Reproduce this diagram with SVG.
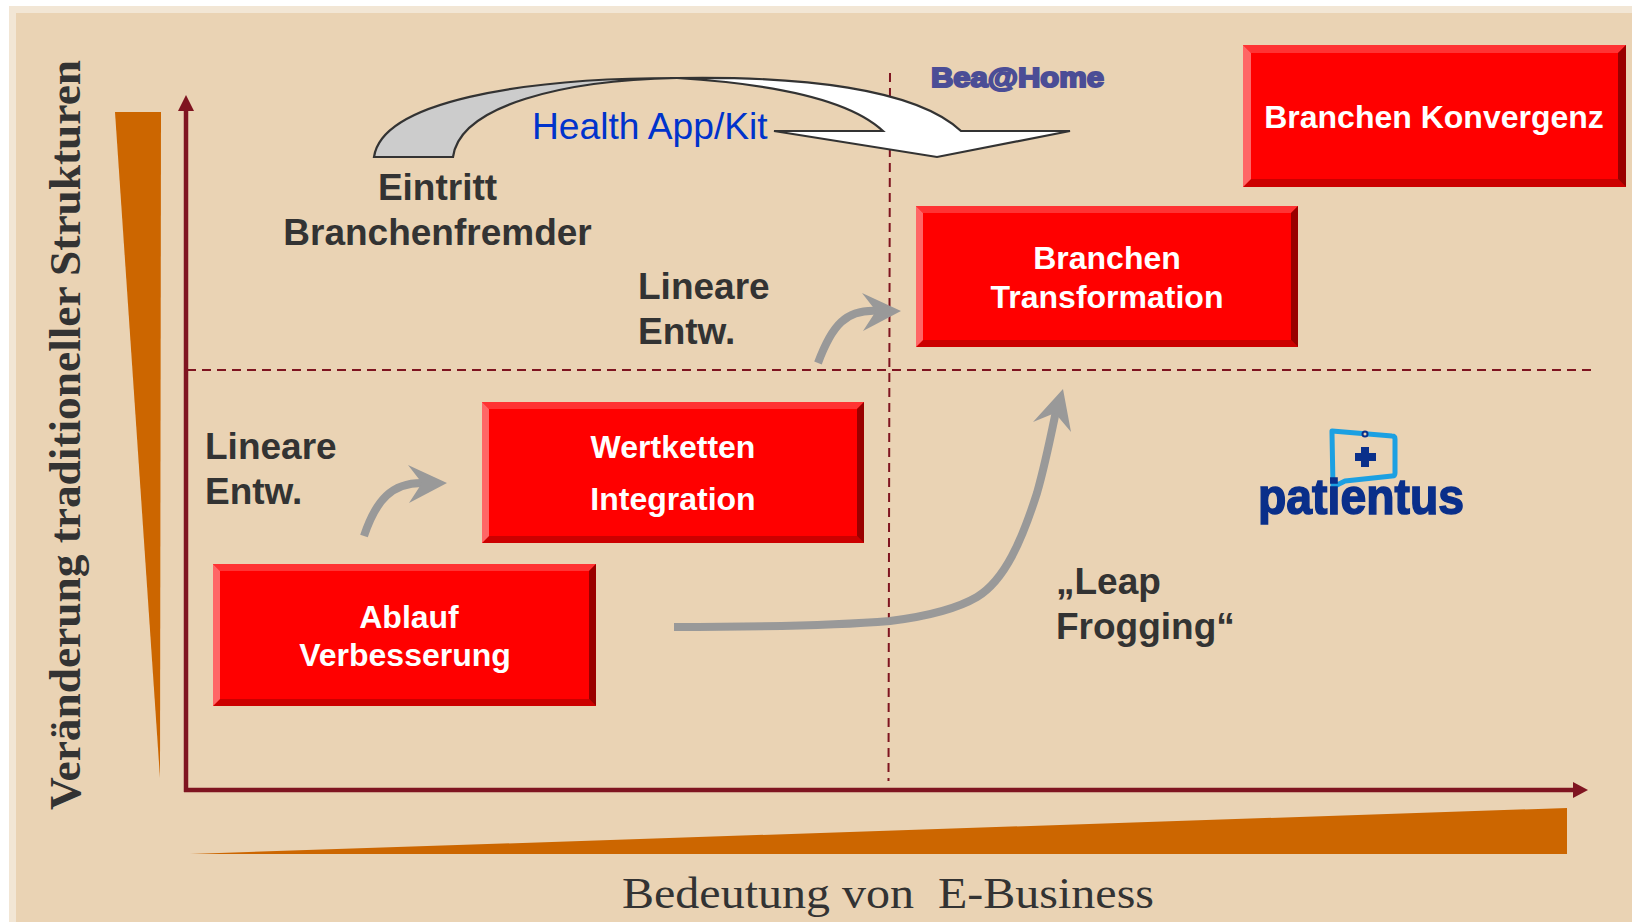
<svg xmlns="http://www.w3.org/2000/svg" width="1632" height="922" viewBox="0 0 1632 922">
<style>
text{font-family:"Liberation Sans",Arial,sans-serif}
.l{font-size:37px;font-weight:bold;fill:#333}
.w{font-size:32px;font-weight:bold;fill:#fff;text-anchor:middle}
.s{font-family:"Liberation Serif","Times New Roman",serif;fill:#333}
.axis{stroke:#7f1420;stroke-width:4.500;fill:none}
.dash{stroke:#7f1420;stroke-width:2;stroke-dasharray:9 6;fill:none}
.g{stroke:#999;stroke-width:8;fill:none}
.gh{fill:#999}
.m{fill:#f00}.t{fill:#f33}.b{fill:#c00}.lf{fill:#f66}.r{fill:#900}
</style>
<rect width="1632" height="922" fill="#fff"/>
<rect x="9" y="6" width="1623" height="916" fill="#f2e6d5"/>
<rect x="16" y="13" width="1616" height="909" fill="#ead3b4"/>
<polygon points="115,112 161,112 160,778" fill="#c60"/>
<polygon points="190,854 1567,808 1567,854" fill="#c60"/>

<g id="connectors">
<path class="axis" d="M186,792 V105" />
<polygon points="186,95 178,111 194,111" fill="#7f1420"/>
<path class="axis" d="M184,790 H1575"/>
<polygon points="1588,790 1573,782 1573,798" fill="#7f1420"/>
<path class="dash" d="M187,370 H1596"/>
<path class="dash" d="M890,73 L888.500,781"/>
<path d="M374,157 C382,102 520,78 677,78 C565,80 460,105 453,157 Z" fill="#ccc" stroke="#333" stroke-width="2.200"/>
<path d="M677,78 C800,76 915,88 961,131 L1070,131 L937,157 L774,131 L883,131 C850,100 775,84 677,78 Z" fill="#fff" stroke="#333" stroke-width="2.200"/>
<path class="g" d="M364,536 C376,500 392,482 424,483"/>
<polygon class="gh" points="447,483 408,465 422,483 409,503"/>
<path class="g" d="M818,363 C832,325 846,309 878,311"/>
<polygon class="gh" points="901,311 862,293 876,311 863,331"/>
<path class="g" d="M674,627 C760,627 830,626 890,621 C930,616 960,607 977,597 C1005,580 1022,540 1037,493 C1045,465 1050,440 1056,411"/>
<polygon class="gh" points="1063,389 1033,422 1055,413 1071,432"/>
</g>

<g id="node-ablauf">
<rect class="m" x="213" y="564" width="383" height="142"/>
<polygon class="t" points="213,564 596,564 589,571 220,571"/><polygon class="b" points="213,706 596,706 589,699 220,699"/><polygon class="lf" points="213,564 220,571 220,699 213,706"/><polygon class="r" points="596,564 589,571 589,699 596,706"/>
<text class="w" x="409" y="628">Ablauf</text><text class="w" x="405" y="666">Verbesserung</text>
</g>
<g id="node-wertketten">
<rect class="m" x="482" y="402" width="382" height="141"/>
<polygon class="t" points="482,402 864,402 857,409 489,409"/><polygon class="b" points="482,543 864,543 857,536 489,536"/><polygon class="lf" points="482,402 489,409 489,536 482,543"/><polygon class="r" points="864,402 857,409 857,536 864,543"/>
<text class="w" x="673" y="458">Wertketten</text><text class="w" x="673" y="510">Integration</text>
</g>
<g id="node-transformation">
<rect class="m" x="916" y="206" width="382" height="141"/>
<polygon class="t" points="916,206 1298,206 1291,213 923,213"/><polygon class="b" points="916,347 1298,347 1291,340 923,340"/><polygon class="lf" points="916,206 923,213 923,340 916,347"/><polygon class="r" points="1298,206 1291,213 1291,340 1298,347"/>
<text class="w" x="1107" y="269">Branchen</text><text class="w" x="1107" y="308">Transformation</text>
</g>
<g id="node-konvergenz">
<rect class="m" x="1243" y="45" width="383" height="142"/>
<polygon class="t" points="1243,45 1626,45 1618,53 1251,53"/><polygon class="b" points="1243,187 1626,187 1618,179 1251,179"/><polygon class="lf" points="1243,45 1251,53 1251,179 1243,187"/><polygon class="r" points="1626,45 1618,53 1618,179 1626,187"/>
<text class="w" x="1434" y="128">Branchen Konvergenz</text>
</g>

<g id="label-eintritt"><text class="l" x="437.500" y="200" text-anchor="middle">Eintritt</text><text class="l" x="437.500" y="245" text-anchor="middle">Branchenfremder</text></g>
<g id="label-linear-1"><text class="l" x="638" y="299">Lineare</text><text class="l" x="638" y="344">Entw.</text></g>
<g id="label-linear-2"><text class="l" x="205" y="459">Lineare</text><text class="l" x="205" y="504">Entw.</text></g>
<g id="label-leap"><text class="l" x="1056" y="594">„Leap</text><text class="l" x="1056" y="639">Frogging“</text></g>
<g id="label-health"><text x="532" y="139" font-size="37.200" fill="#03c">Health App/Kit</text></g>
<g id="logo-bea"><text x="931" y="87" font-size="27" font-weight="bold" fill="#4b4d96" stroke="#4b4d96" stroke-width="2" textLength="173" lengthAdjust="spacingAndGlyphs">Bea@Home</text></g>
<g id="logo-patientus">
<path d="M1332,431 L1392,436 Q1395,436 1395,439 V473 Q1395,476 1392,476 L1345,481 L1333,487 L1332,433 Z" fill="none" stroke="#1ca0e2" stroke-width="5" stroke-linejoin="round"/>
<path d="M1361,447 h8 v6 h7 v8 h-7 v6 h-8 v-6 h-6 v-8 h6 z" fill="#0a2f8a"/>
<circle cx="1365" cy="434" r="2.500" fill="#ead3b4" stroke="#0a2f8a" stroke-width="2"/>
<text x="1258" y="514" font-size="50" font-weight="bold" fill="#0a2f8a" stroke="#0a2f8a" stroke-width="1.500" textLength="206" lengthAdjust="spacingAndGlyphs">patientus</text>
</g>
<g id="axis-titles">
<text class="s" transform="translate(80,810) rotate(-90)" font-size="44" font-weight="bold" textLength="750" lengthAdjust="spacingAndGlyphs">Veränderung traditioneller Strukturen</text>
<text class="s" x="622" y="907.500" font-size="44" textLength="532" lengthAdjust="spacingAndGlyphs">Bedeutung von&#160; E-Business</text>
</g>
</svg>
